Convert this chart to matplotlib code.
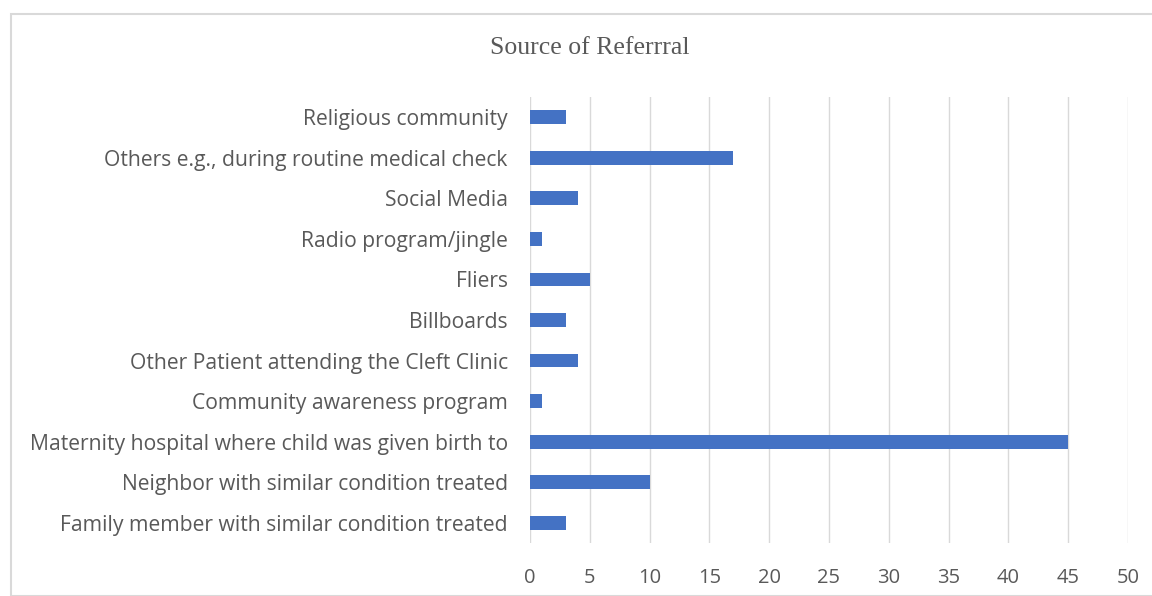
import matplotlib
matplotlib.use("Agg")
import matplotlib.pyplot as plt
from matplotlib.patches import Rectangle

categories = [
    "Family member with similar condition treated",
    "Neighbor with similar condition treated",
    "Maternity hospital where child was given birth to",
    "Community awareness program",
    "Other Patient attending the Cleft Clinic",
    "Billboards",
    "Fliers",
    "Radio program/jingle",
    "Social Media",
    "Others e.g., during routine medical check",
    "Religious community",
]
values = [3, 10, 45, 1, 4, 3, 5, 1, 4, 17, 3]
xticks = [0, 5, 10, 15, 20, 25, 30, 35, 40, 45, 50]
title = "Source of Referrral"

fig = plt.figure(figsize=(11.52, 5.96), dpi=100)
fig.patches.append(Rectangle((11/1152, 0), 1.2, 1 - 14/596, transform=fig.transFigure,
                             fill=False, edgecolor="#d9d9d9", linewidth=1.5))
ax = fig.add_axes([530/1152, 1 - 543/596, (1128 - 530)/1152, (543 - 97)/596])
ypos = list(range(len(categories)))
ax.barh(ypos, values, height=0.34, color="#4472C4", zorder=3)
ax.set_xlim(0, 50)
ax.set_ylim(-0.5, len(categories) - 0.5)
ax.set_xticks(xticks)
ax.set_xticklabels([str(t) for t in xticks])
ax.set_yticks(ypos)
ax.set_yticklabels(categories)
ax.grid(axis="x", color="#d9d9d9", linewidth=1, zorder=0)
for s in ax.spines.values():
    s.set_visible(False)
ax.tick_params(axis="both", length=0, colors="#595959", labelsize=14.5)
ax.tick_params(axis="y", pad=16, labelsize=15.2)
ax.tick_params(axis="x", pad=18)
for lbl in ax.get_xticklabels() + ax.get_yticklabels():
    lbl.set_fontfamily("Open Sans")
fig.text(590/1152, 1 - 48/596, title, ha="center", va="center", fontsize=18.5,
         family="Liberation Serif", color="#595959")
fig.savefig("out.png", dpi=100)
